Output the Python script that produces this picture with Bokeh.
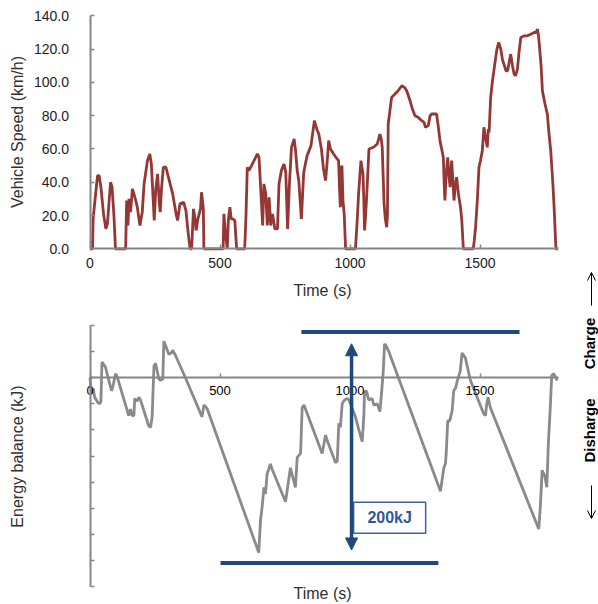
from bokeh.plotting import figure
from bokeh.models import Range1d, LinearAxis, FixedTicker, Label, Arrow, NormalHead, OpenHead
from bokeh.core.properties import value
from bokeh.embed import file_html
from bokeh.resources import INLINE

# ---------------- data ----------------
time_speed = [0, 10, 12, 19, 29, 35, 42, 52, 61, 67, 79, 85, 92, 98, 137, 141, 146, 150, 156, 163,
              169, 176, 182, 192, 201, 208, 221, 230, 236, 247, 253, 260, 266, 270, 275, 282, 292,
              305, 318, 331, 337, 346, 360, 369, 378, 385, 391, 398, 404, 408, 415, 425, 429, 436,
              438, 512, 515, 521, 528, 532, 538, 543, 549, 557, 564, 595, 600, 605, 611, 618, 631,
              644, 650, 659, 664, 669, 676, 682, 689, 695, 702, 711, 721, 727, 736, 746, 753, 760,
              767, 775, 785, 790, 797, 803, 813, 822, 835, 850, 863, 872, 880, 890, 898, 906, 912,
              918, 925, 937, 946, 956, 960, 963, 966, 969, 973, 978, 983, 1021, 1027, 1033, 1042,
              1050, 1053, 1056, 1060, 1064, 1073, 1090, 1105, 1115, 1120, 1124, 1131, 1136, 1141,
              1144, 1147, 1160, 1173, 1185, 1199, 1210, 1218, 1231, 1240, 1250, 1262, 1276, 1285,
              1290, 1301, 1308, 1314, 1333, 1340, 1346, 1359, 1362, 1365, 1370, 1376, 1380, 1385,
              1391, 1396, 1400, 1405, 1410, 1417, 1425, 1430, 1436, 1474, 1478, 1483, 1490, 1496,
              1502, 1509, 1515, 1521, 1528, 1532, 1535, 1541, 1548, 1556, 1565, 1572, 1580, 1586,
              1592, 1600, 1606, 1612, 1618, 1625, 1631, 1637, 1644, 1650, 1657, 1670, 1682, 1695,
              1708, 1715, 1721, 1725, 1728, 1735, 1740, 1750, 1759, 1765, 1772, 1780, 1785, 1792,
              1800]
speed_kmh = [0, 0, 18, 29, 44, 44, 37, 21, 12, 15, 40, 37, 20, 0, 0, 29, 14, 30, 22, 36,
             33, 29, 25, 14, 22, 39, 53, 57, 51, 17, 36, 45, 29, 22, 36, 49, 49,
             41, 33, 21, 17, 27, 28, 23, 9, 0, 0, 24, 18, 11, 18, 24, 34, 24,
             0, 0, 21, 9, 0, 17, 25, 18, 18, 17, 0, 0, 20, 49, 47, 49, 53,
             57, 55, 29, 14, 39, 33, 14, 31, 14, 21, 12, 12, 39, 47, 51, 46, 12,
             39, 61, 66, 60, 47, 41, 18, 46, 56, 62, 77, 72, 69, 60, 48, 41, 52,
             65, 60, 57, 55, 53, 35, 25, 48, 50, 29, 20, 0, 0, 15, 33, 53,
             45, 30, 11, 20, 31, 60, 61, 63, 69, 66, 61, 27, 18, 13,
             20, 75, 91, 93, 95, 98, 97, 95, 89, 84, 80, 79, 77, 76,
             73, 74, 80, 81, 81, 73, 65, 55, 40, 29, 45, 55, 45, 37,
             53, 40, 29, 38, 43, 33, 25, 17, 0, 0, 5, 13, 30, 49,
             53, 59, 73, 67, 61, 72, 70, 91, 101, 110, 120, 124, 120, 114,
             111, 107, 107, 112, 117, 110, 105, 104, 108, 118, 127, 128, 128, 129,
             130, 130, 132, 128, 123, 110, 95, 87, 81, 70, 59, 40, 25, 0,
             0]

time_energy = [0, 5, 12, 18, 30, 38, 42, 46, 53, 60, 67, 83, 89, 98, 104, 149, 156, 162, 169, 172,
               181, 188, 194, 226, 233, 239, 246, 252, 265, 271, 280, 284, 290, 303, 313, 318, 329,
               367, 431, 438, 444, 451, 649, 656, 662, 669, 675, 681, 694, 700, 752, 771, 777, 790,
               797, 810, 816, 823, 893, 906, 912, 944, 951, 957, 963, 970, 979, 989, 996, 1021,
               1034, 1047, 1053, 1056, 1063, 1072, 1085, 1092, 1105, 1115, 1120, 1128, 1133, 1140,
               1149, 1348, 1361, 1367, 1370, 1376, 1384, 1393, 1399, 1406, 1412, 1424, 1431, 1444,
               1463, 1489, 1515, 1521, 1526, 1531, 1540, 1726, 1732, 1739, 1749, 1757, 1763, 1770,
               1776, 1784, 1794, 1798]
energy_kj = [0, -12, -8, -15, -19, -20, -18, 12, 10, 8, 2, -10, -6, 3, 1, -29, -24, -29, -29, -16,
             -18, -15, -17, -37, -38, -30, 9, 11, -1, -2, -1, 28, 25, 18, 19, 21, 17,
             0, -30, -21, -22, -24, -134, -109, -99, -84, -89, -74, -66, -70, -95, -69, -74, -84,
             -61, -58, -23, -21, -58, -44, -48, -65, -64, -35, -38, -20, -17, -16, -17, -30,
             -40, -49, -30, -11, -10, -17, -16, -21, -20, -26, -15, 5, 26, 24,
             20, -87, -69, -66, -58, -33, -33, -25, -10, -8, -3, 5, 19, 15,
             -2, -15, -28, -29, -20, -15, -23, -116, -99, -71, -75, -84, -50, -24,
             2, 3, -1, -2]

speed_ticks = [0, 20, 40, 60, 80, 100, 120, 140]
speed_tick_labels = ["0.0", "20.0", "40.0", "60.0", "80.0", "100.0", "120.0", "140.0"]
time_ticks = [0, 500, 1000, 1500]
time_tick_labels = ["0", "500", "1000", "1500"]
energy_ticks = [-160, -140, -120, -100, -80, -60, -40, -20, 0, 20, 40]

time_max = 1800
speed_max = 140
energy_bounds = (-160, 40)

band_levels_kj = [35, -142]          # upper and lower blue bars
band_starts_s = [813, 502]
band_ends_s = [1652, 1340]
span_time_s = 1006                   # double arrow
span_from_kj, span_to_kj = -132, 26
span_text = "200kJ"
box_left_s, box_right_s = 1014, 1291
box_top_kj, box_bottom_kj = -95.5, -119.2

# ---------------- layout ----------------
FONT = "Liberation Sans"
W, H = 598, 604
X0, PX_S = 89.5, 0.26          # canvas px of t=0, px per second
V0, PX_V = 248.3, 1.664        # canvas px (from top) of speed 0, px per km/h
E0, PX_E = 377.2, 1.305        # canvas px (from top) of energy 0, px per kJ


def tx(px):  # canvas x -> time
    return (px - X0) / PX_S


def vy(py):  # canvas y -> speed
    return (V0 - py) / PX_V


def ey(py):  # canvas y -> energy
    return (E0 - py) / PX_E


p = figure(width=W, height=H, output_backend="svg", toolbar_location=None, tools="",
           x_range=Range1d(-X0 / PX_S, (W - X0) / PX_S),
           y_range=Range1d((V0 - H) / PX_V, V0 / PX_V),
           x_axis_type=None, y_axis_type=None, min_border=0)
p.extra_y_ranges = {"energy": Range1d((E0 - H) / PX_E, E0 / PX_E)}
p.outline_line_color = None
p.background_fill_color = "white"
p.border_fill_color = "white"

AX = "#868686"


def style_axis(ax, size, color):
    ax.axis_line_color = AX
    ax.axis_line_width = 2
    ax.major_tick_line_color = AX
    ax.major_tick_line_width = 1.5
    ax.major_tick_in = 4
    ax.major_tick_out = 0
    ax.minor_tick_line_color = None
    ax.major_label_text_font = FONT
    ax.major_label_text_font_size = size
    ax.major_label_text_color = color


# top panel axes
ay1 = LinearAxis(fixed_location=0, bounds=(0, speed_max), ticker=FixedTicker(ticks=speed_ticks),
                 major_label_overrides=dict(zip(speed_ticks, speed_tick_labels)))
style_axis(ay1, "14px", "#1c1c28")
ay1.major_label_standoff = 21
p.add_layout(ay1, "left")

ax1 = LinearAxis(fixed_location=0, bounds=(0, time_max), ticker=FixedTicker(ticks=time_ticks),
                 major_label_overrides=dict(zip(time_ticks, time_tick_labels)))
style_axis(ax1, "14px", "#1c1c28")
ax1.major_label_standoff = 9
p.add_layout(ax1, "below")

# bottom panel axes
ax2 = LinearAxis(fixed_location=0, y_range_name="energy", bounds=(0, time_max),
                 ticker=FixedTicker(ticks=time_ticks),
                 major_label_overrides=dict(zip(time_ticks, time_tick_labels)))
style_axis(ax2, "13px", "#000000")
ax2.major_label_standoff = 8
p.add_layout(ax2, "below")

ay2 = LinearAxis(fixed_location=0, y_range_name="energy", bounds=energy_bounds,
                 ticker=FixedTicker(ticks=energy_ticks),
                 major_label_overrides={t: "" for t in energy_ticks})
style_axis(ay2, "13px", "#000000")
p.add_layout(ay2, "left")

# series
p.line(time_speed, speed_kmh, line_color="#953735", line_width=2.8)
p.line(time_energy, energy_kj, y_range_name="energy", line_color="#8a8a8a", line_width=2.8)

# blue annotation bars and double arrow
BLUE = "#1F497D"
p.segment(x0=band_starts_s, y0=band_levels_kj, x1=band_ends_s, y1=band_levels_kj,
          y_range_name="energy", line_color=BLUE, line_width=4)
p.add_layout(Arrow(x_start=span_time_s, y_start=span_from_kj, x_end=span_time_s, y_end=span_to_kj,
                   y_range_name="energy", line_color=BLUE, line_width=3.5,
                   start=NormalHead(size=12, fill_color=BLUE, line_color=BLUE),
                   end=NormalHead(size=12, fill_color=BLUE, line_color=BLUE)))
p.quad(left=[box_left_s], right=[box_right_s], top=[box_top_kj], bottom=[box_bottom_kj],
       y_range_name="energy", fill_color="white", line_color="#3D64A0", line_width=1.5)
p.text(x=[(box_left_s + box_right_s) / 2], y=[(box_top_kj + box_bottom_kj) / 2], text=[span_text],
       y_range_name="energy", text_font=value(FONT), text_font_style="bold", text_font_size="16px",
       text_color="#30599C", text_align="center", text_baseline="middle")

# axis titles
TITLE_C = "#303030"
p.add_layout(Label(x=tx(17), y=vy(131.5), text="Vehicle Speed (km/h)", angle=1.5707963,
                   text_font=FONT, text_font_size="16px", text_color=TITLE_C,
                   text_align="center", text_baseline="middle"))
p.add_layout(Label(x=tx(322), y=vy(289.5), text="Time (s)",
                   text_font=FONT, text_font_size="16px", text_color=TITLE_C,
                   text_align="center", text_baseline="middle"))
p.add_layout(Label(x=tx(17), y=ey(456), y_range_name="energy", text="Energy balance (kJ)",
                   angle=1.5707963, text_font=FONT, text_font_size="16px", text_color=TITLE_C,
                   text_align="center", text_baseline="middle"))
p.add_layout(Label(x=tx(322), y=ey(593), y_range_name="energy", text="Time (s)",
                   text_font=FONT, text_font_size="16px", text_color=TITLE_C,
                   text_align="center", text_baseline="middle"))

# charge / discharge side notes
p.add_layout(Label(x=tx(589), y=ey(343), y_range_name="energy", text="Charge", angle=1.5707963,
                   text_font=FONT, text_font_size="15px", text_font_style="bold", text_color="#000000",
                   text_align="center", text_baseline="middle"))
p.add_layout(Label(x=tx(589), y=ey(430), y_range_name="energy", text="Disharge", angle=1.5707963,
                   text_font=FONT, text_font_size="15px", text_font_style="bold", text_color="#000000",
                   text_align="center", text_baseline="middle"))
p.add_layout(Arrow(x_start=tx(591), y_start=ey(305), x_end=tx(591), y_end=ey(272),
                   y_range_name="energy", line_color="#000000", line_width=1,
                   end=OpenHead(size=8, line_color="#000000", line_width=1)))
p.add_layout(Arrow(x_start=tx(591), y_start=ey(485), x_end=tx(591), y_end=ey(518),
                   y_range_name="energy", line_color="#000000", line_width=1,
                   end=OpenHead(size=8, line_color="#000000", line_width=1)))

open("out.html", "w").write(file_html(p, INLINE))
